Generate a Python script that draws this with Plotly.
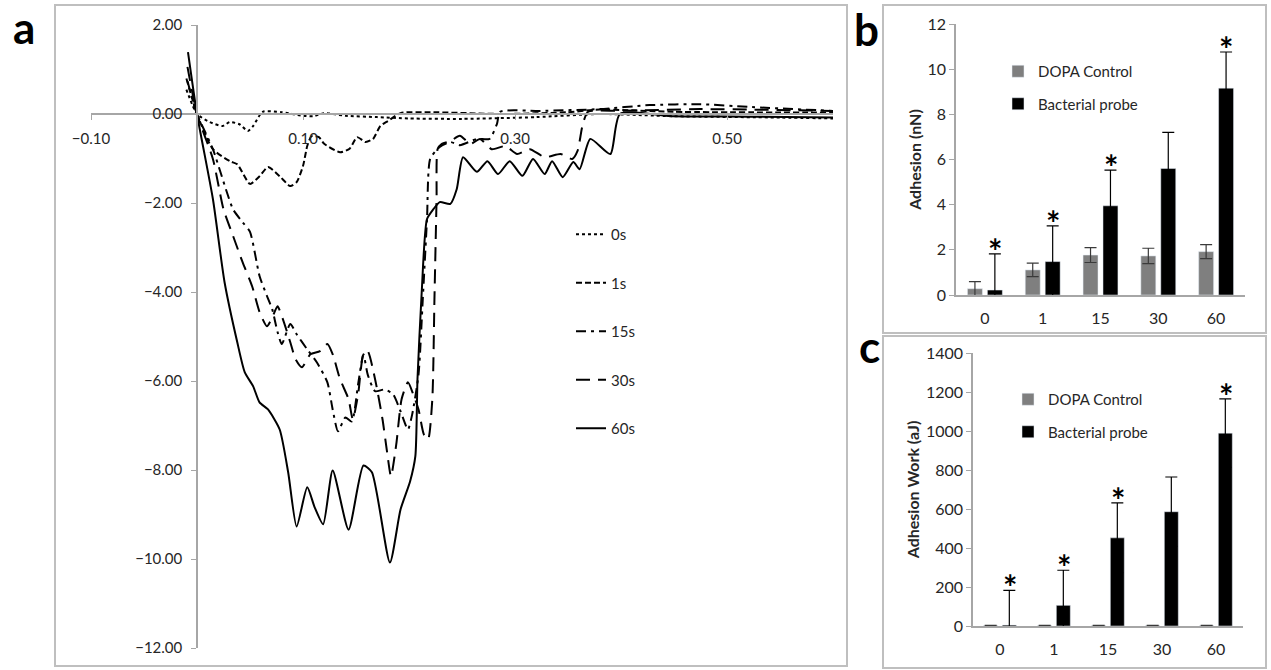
import plotly.graph_objects as go

W, H = 1271, 670

# ---------------- Panel a data: force curves (nN) vs distance ----------------
series_names = ["0s", "1s", "15s", "30s", "60s"]

x_0s = [-0.010, 0.000, 0.012, 0.024, 0.031, 0.040, 0.048, 0.053, 0.062, 0.080, 0.100, 0.110,
        0.120, 0.140, 0.170, 0.200, 0.250, 0.320, 0.380, 0.450, 0.550, 0.600]
y_0s = [0.55, 0.00, -0.18, -0.27, -0.18, -0.23, -0.38, -0.27, 0.05, 0.04, -0.04, -0.05,
        0.02, -0.04, -0.07, -0.10, -0.11, -0.07, 0.00, -0.05, -0.08, -0.10]

x_1s = [-0.010, 0.000, 0.015, 0.031, 0.038, 0.050, 0.059, 0.067, 0.078, 0.088, 0.094, 0.100,
        0.104, 0.108, 0.115, 0.120, 0.135, 0.144, 0.151, 0.159, 0.166, 0.173, 0.180, 0.192,
        0.220, 0.290, 0.350, 0.380, 0.450, 0.600]
y_1s = [0.80, 0.00, -0.79, -1.06, -1.13, -1.57, -1.40, -1.19, -1.40, -1.62, -1.53, -1.17,
        -0.72, -0.50, -0.52, -0.67, -0.86, -0.78, -0.52, -0.63, -0.56, -0.27, -0.16, 0.02,
        0.04, 0.00, 0.04, 0.10, 0.05, 0.03]

x_15s = [-0.009, 0.000, 0.015, 0.034, 0.043, 0.050, 0.059, 0.066, 0.071, 0.076, 0.080, 0.088,
         0.094, 0.104, 0.113, 0.123, 0.128, 0.133, 0.140, 0.146, 0.152, 0.157, 0.161, 0.168,
         0.177, 0.185, 0.192, 0.199, 0.203, 0.209, 0.213, 0.217, 0.220, 0.229, 0.239, 0.248,
         0.264, 0.276, 0.283, 0.286, 0.324, 0.380, 0.427, 0.475, 0.520, 0.600]
y_15s = [0.74, 0.00, -0.79, -2.14, -2.43, -2.65, -3.64, -4.09, -4.39, -4.90, -5.17, -4.72,
         -4.95, -5.29, -5.58, -6.03, -6.64, -7.13, -6.82, -6.91, -6.07, -5.40, -5.85, -6.23,
         -6.19, -6.30, -6.68, -7.09, -6.75, -5.85, -4.16, -2.36, -1.01, -0.74, -0.63, -0.70,
         -0.56, -0.56, -0.22, 0.05, 0.07, 0.11, 0.20, 0.22, 0.16, 0.07]

x_30s = [-0.009, 0.000, 0.015, 0.025, 0.034, 0.043, 0.052, 0.059, 0.066, 0.071, 0.076, 0.081,
         0.088, 0.093, 0.099, 0.107, 0.116, 0.123, 0.128, 0.135, 0.143, 0.147, 0.152, 0.157,
         0.161, 0.168, 0.175, 0.179, 0.183, 0.188, 0.193, 0.199, 0.204, 0.209, 0.214, 0.218,
         0.222, 0.224, 0.226, 0.227, 0.231, 0.239, 0.248, 0.258, 0.267, 0.278, 0.291, 0.302,
         0.314, 0.328, 0.343, 0.354, 0.359, 0.364, 0.369, 0.399, 0.475, 0.600]
y_30s = [1.06, 0.00, -1.01, -2.14, -2.74, -3.33, -3.87, -4.45, -4.77, -4.57, -4.32, -4.61,
         -5.13, -5.51, -5.69, -5.40, -5.33, -5.17, -5.40, -5.96, -6.41, -6.86, -6.30, -5.40,
         -5.33, -5.96, -6.86, -7.54, -8.14, -7.42, -6.41, -6.03, -6.30, -6.64, -7.20, -7.31,
         -6.41, -4.16, -1.91, -0.79, -0.67, -0.61, -0.49, -0.67, -0.56, -0.79, -0.72, -0.90,
         -0.79, -0.97, -0.90, -1.01, -0.83, -0.22, 0.05, 0.07, 0.11, 0.07]

x_60s = [-0.0085, 0.000, 0.015, 0.026, 0.038, 0.045, 0.053, 0.059, 0.067, 0.078, 0.086, 0.094,
         0.104, 0.111, 0.119, 0.128, 0.143, 0.157, 0.165, 0.182, 0.192, 0.201, 0.206, 0.208,
         0.212, 0.217, 0.223, 0.229, 0.239, 0.245, 0.251, 0.264, 0.274, 0.284, 0.295, 0.307,
         0.317, 0.328, 0.335, 0.345, 0.355, 0.361, 0.371, 0.390, 0.399, 0.450, 0.520, 0.600]
y_60s = [1.39, 0.00, -1.91, -3.78, -5.13, -5.80, -6.12, -6.48, -6.64, -7.09, -8.05, -9.27,
         -8.39, -8.84, -9.22, -8.01, -9.34, -7.90, -8.05, -10.08, -8.89, -8.26, -7.69, -5.96,
         -4.00, -2.36, -2.14, -1.98, -2.02, -1.69, -0.97, -1.30, -1.06, -1.35, -1.06, -1.39,
         -1.01, -1.35, -1.06, -1.42, -1.08, -1.24, -0.56, -0.90, 0.00, -0.05, -0.06, -0.08]

a_xticks = [-0.10, 0.10, 0.30, 0.50]
a_yticks = [2, 0, -2, -4, -6, -8, -10, -12]

# ---------------- Panels b / c data ----------------
categories = ["0", "1", "15", "30", "60"]
bar_names = ["DOPA Control", "Bacterial probe"]

b_dopa = [0.28, 1.11, 1.77, 1.73, 1.92]
b_dopa_err = [0.31, 0.30, 0.33, 0.34, 0.31]
b_bact = [0.22, 1.48, 3.95, 5.60, 9.16]
b_bact_err = [1.60, 1.58, 1.58, 1.60, 1.60]
b_sig = [True, True, True, False, True]
b_yticks = [0, 2, 4, 6, 8, 10, 12]

c_dopa = [3, 3, 3, 3, 3]
c_dopa_err = [0, 0, 0, 0, 0]
c_bact = [5, 106, 452, 586, 989]
c_bact_err = [178, 180, 179, 178, 176]
c_sig = [True, True, True, False, True]
c_yticks = [0, 200, 400, 600, 800, 1000, 1200, 1400]

FONT = "Lato"
AXC = "#a6a6a6"
TXT = "#262626"

def px_x(p):
    return p / W

def px_y(p):
    return 1 - p / H

fig = go.Figure()

styles = {
    "0s": dict(dash="dot", width=2),
    "1s": dict(dash="6px,3px", width=2),
    "15s": dict(dash="10px,5px,3px,5px", width=2),
    "30s": dict(dash="14px,8px", width=2),
    "60s": dict(dash="solid", width=2),
}
xs = [x_0s, x_1s, x_15s, x_30s, x_60s]
ys = [y_0s, y_1s, y_15s, y_30s, y_60s]
for name, xv, yv in zip(series_names, xs, ys):
    st = styles[name]
    fig.add_trace(go.Scatter(
        x=xv, y=yv, mode="lines", name=name, legendgroup=name, legend="legend",
        line=dict(color="black", width=st["width"], dash=st["dash"], shape="spline", smoothing=0.6),
        xaxis="x", yaxis="y"))

GRAY = "#7f7f7f"
# panel b bars
fig.add_trace(go.Bar(x=categories, y=b_dopa, name=bar_names[0], marker_color=GRAY, legendgroup="b1",
                     error_y=dict(type="data", array=b_dopa_err, color="#3a3a3a", thickness=1.2, width=6),
                     xaxis="x2", yaxis="y2", legend="legend2"))
fig.add_trace(go.Bar(x=categories, y=b_bact, name=bar_names[1], marker_color="black", legendgroup="b2",
                     error_y=dict(type="data", array=b_bact_err, color="black", thickness=1.2, width=6),
                     xaxis="x2", yaxis="y2", legend="legend2"))
# panel c bars
fig.add_trace(go.Bar(x=categories, y=c_dopa, name=bar_names[0], marker_color=GRAY, legendgroup="c1",
                     error_y=dict(type="data", array=c_dopa_err, color="#3a3a3a", thickness=1.2, width=6),
                     xaxis="x3", yaxis="y3", legend="legend3"))
fig.add_trace(go.Bar(x=categories, y=c_bact, name=bar_names[1], marker_color="black", legendgroup="c2",
                     error_y=dict(type="data", array=c_bact_err, color="black", thickness=1.2, width=6),
                     xaxis="x3", yaxis="y3", legend="legend3"))

annotations = []
# asterisks (x given as category index)
for i, (v, e, s) in enumerate(zip(b_bact, b_bact_err, b_sig)):
    if s:
        annotations.append(dict(x=i, y=v + e, xref="x2", yref="y2", text="<b>*</b>", showarrow=False,
                                xshift=10, yshift=-19, yanchor="bottom",
                                font=dict(family=FONT, size=34, color="black")))
for i, (v, e, s) in enumerate(zip(c_bact, c_bact_err, c_sig)):
    if s:
        annotations.append(dict(x=i, y=v + e, xref="x3", yref="y3", text="<b>*</b>", showarrow=False,
                                xshift=10, yshift=-19, yanchor="bottom",
                                font=dict(family=FONT, size=34, color="black")))
# panel letters
for t, x, y in [("a", 24, 27), ("b", 866, 29), ("c", 870, 346)]:
    annotations.append(dict(x=px_x(x), y=px_y(y), xref="paper", yref="paper", text=f"<b>{t}</b>",
                            showarrow=False, xanchor="center", yanchor="middle",
                            font=dict(family=FONT, size=44, color="black")))

shapes = []
for (x0, y0, x1, y1) in [(55, 5, 847, 666), (883, 5, 1266, 333), (883, 336, 1266, 668)]:
    shapes.append(dict(type="rect", xref="paper", yref="paper", x0=px_x(x0), x1=px_x(x1),
                       y0=px_y(y1), y1=px_y(y0), line=dict(color="#bfbfbf", width=2)))

axis_common = dict(showgrid=False, zeroline=False, showline=True, linecolor=AXC, linewidth=1.5,
                   tickcolor=AXC, automargin=False, tickfont=dict(family=FONT, size=15, color=TXT))

fig.update_layout(
    width=W, height=H, margin=dict(l=0, r=0, t=0, b=0, autoexpand=False),
    paper_bgcolor="white", plot_bgcolor="rgba(0,0,0,0)",
    font=dict(family=FONT, color=TXT),
    barmode="group", bargap=0.31, bargroupgap=0.25,
    xaxis=dict(axis_common, domain=[px_x(91), px_x(833)], range=[-0.1, 0.6], anchor="free",
               position=px_y(114), tickmode="array", tickvals=a_xticks, tickformat=".2f",
               ticks="outside", ticklen=5, ticklabelstandoff=6),
    yaxis=dict(axis_common, domain=[px_y(648), px_y(25)], range=[-12, 2], anchor="free",
               position=px_x(197), tickmode="array", tickvals=a_yticks, tickformat=".2f",
               ticks="outside", ticklen=5, ticklabelstandoff=6),
    xaxis2=dict(axis_common, domain=[px_x(956), px_x(1245)], anchor="y2", ticks="", type="category",
                range=[-0.5, 4.5], ticklabelstandoff=8, tickfont=dict(family=FONT, size=16, color=TXT)),
    yaxis2=dict(axis_common, domain=[px_y(295), px_y(24)], anchor="x2", range=[0, 12],
                tickmode="array", tickvals=b_yticks, ticks="outside", ticklen=5,
                tickfont=dict(family=FONT, size=16, color=TXT),
                title=dict(text="<b>Adhesion (nN)</b>", font=dict(family=FONT, size=16, color=TXT), standoff=2)),
    xaxis3=dict(axis_common, domain=[px_x(973), px_x(1243)], anchor="y3", ticks="", type="category",
                range=[-0.5, 4.5], ticklabelstandoff=8, tickfont=dict(family=FONT, size=16, color=TXT)),
    yaxis3=dict(axis_common, domain=[px_y(626), px_y(353)], anchor="x3", range=[0, 1400],
                tickmode="array", tickvals=c_yticks, ticks="outside", ticklen=5,
                tickfont=dict(family=FONT, size=16, color=TXT),
                title=dict(text="<b>Adhesion Work (aJ)</b>", font=dict(family=FONT, size=16, color=TXT), standoff=2)),
    legend=dict(x=px_x(571), y=px_y(218), xanchor="left", yanchor="top", bgcolor="rgba(0,0,0,0)",
                font=dict(family=FONT, size=15, color=TXT), tracegroupgap=26, itemwidth=30),
    legend2=dict(x=px_x(998), y=px_y(55), xanchor="left", yanchor="top", bgcolor="rgba(0,0,0,0)",
                 font=dict(family=FONT, size=15, color=TXT), tracegroupgap=10, itemwidth=30),
    legend3=dict(x=px_x(1008), y=px_y(383), xanchor="left", yanchor="top", bgcolor="rgba(0,0,0,0)",
                 font=dict(family=FONT, size=15, color=TXT), tracegroupgap=10, itemwidth=30),
    annotations=annotations, shapes=shapes, showlegend=True,
)

fig.write_html("out.html", post_script="document.body.style.margin='0px';",
               config={"displayModeBar": False})
